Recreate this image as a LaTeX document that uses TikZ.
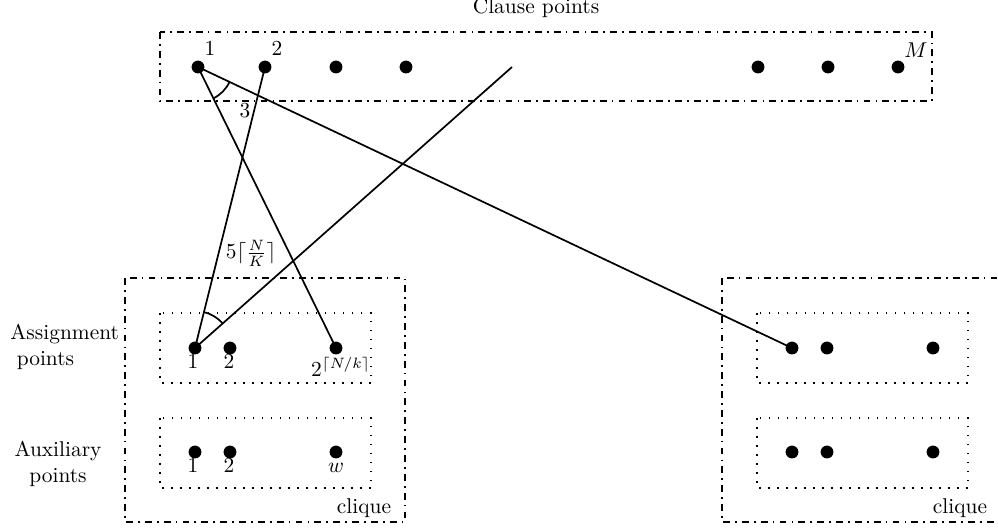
\documentclass[tikz,border=0pt]{standalone}
\usetikzlibrary{angles}
\begin{document}
\begin{tikzpicture}[x=0.467pt,y=-0.467pt,
  pt/.style={circle,fill=black,draw=none,inner sep=0pt,minimum size=6pt},
  lbl/.style={inner sep=0pt,anchor=base},
  conn/.style={thick},
  dashdot/.style={thick,dash pattern=on 3.2pt off 2.4pt on 0.8pt off 2.4pt},
  dotbox/.style={thick,dash pattern=on 0.8pt off 3.4pt},
  arcmark/.style={draw,thick}]
\useasboundingbox (0,0) rectangle (998,531);

% boxes
\draw[dashdot] (160,32) rectangle (932,101);
\draw[dashdot] (125,278) rectangle (405,522);
\draw[dashdot] (722,278) rectangle (1002,522);
\draw[dotbox] (160,313) rectangle (371,383);
\draw[dotbox] (160,418) rectangle (371,488);
\draw[dotbox] (757,313) rectangle (968,383);
\draw[dotbox] (757,418) rectangle (968,488);

% clause points
\node[pt] (t1) at (198,67) {};
\node[pt] (t2) at (265,67) {};
\node[pt] (t3) at (336,67) {};
\node[pt] (t4) at (406,67) {};
\node[pt] (t5) at (758,67) {};
\node[pt] (t6) at (828,67) {};
\node[pt] (t7) at (898,67) {};
\coordinate (tend) at (512,67);

% left clique
\node[pt] (a1) at (195,348) {};
\node[pt] (a2) at (230,348) {};
\node[pt] (a3) at (336,348) {};
\node[pt] (x1) at (195,452) {};
\node[pt] (x2) at (230,452) {};
\node[pt] (x3) at (336,452) {};

% right clique
\node[pt] (b1) at (792,348) {};
\node[pt] (b2) at (827,348) {};
\node[pt] (b3) at (933,348) {};
\node[pt] (y1) at (792,452) {};
\node[pt] (y2) at (827,452) {};
\node[pt] (y3) at (933,452) {};

% connectors
\draw[conn] (t1.center) -- (a3.center);
\draw[conn] (t1.center) -- (b1.center);
\draw[conn] (t2.center) -- (a1.center);
\draw[conn] (a1.center) -- (tend);

% angle marks
\pic[arcmark, angle radius=16.3pt] {angle = a3--t1--b1};
\pic[arcmark, angle radius=17.3pt] {angle = tend--a1--t2};

% labels
\node[lbl] (ttitle) at (536,13) {Clause points};
\node[lbl] (lt1) at (210,55) {1};
\node[lbl] (lt2) at (277,55) {2};
\node[lbl] (lM) at (916,57) {$M$};
\node[lbl] (l3) at (245,117) {3};
\node[inner sep=0pt] (l5) at (251,253) {$5\lceil\frac{N}{K}\rceil$};
\node[lbl] (la1) at (193,368) {1};
\node[lbl] (la2) at (229,368) {2};
\node[lbl] (la3) at (341,376) {$2^{\lceil N/k\rceil}$};
\node[lbl] (lx1) at (193,472) {1};
\node[lbl] (lx2) at (229,472) {2};
\node[lbl] (lx3) at (336,472) {$w$};
\node[lbl] (lc1) at (364,513) {clique};
\node[lbl] (lc2) at (960,513) {clique};
\node[inner sep=0pt,align=left,anchor=west] (lassign) at (10,347) {Assignment\\\hspace*{3pt}points};
\node[inner sep=0pt,align=center] (laux) at (58,464) {Auxiliary\\points};
\end{tikzpicture}
\end{document}
